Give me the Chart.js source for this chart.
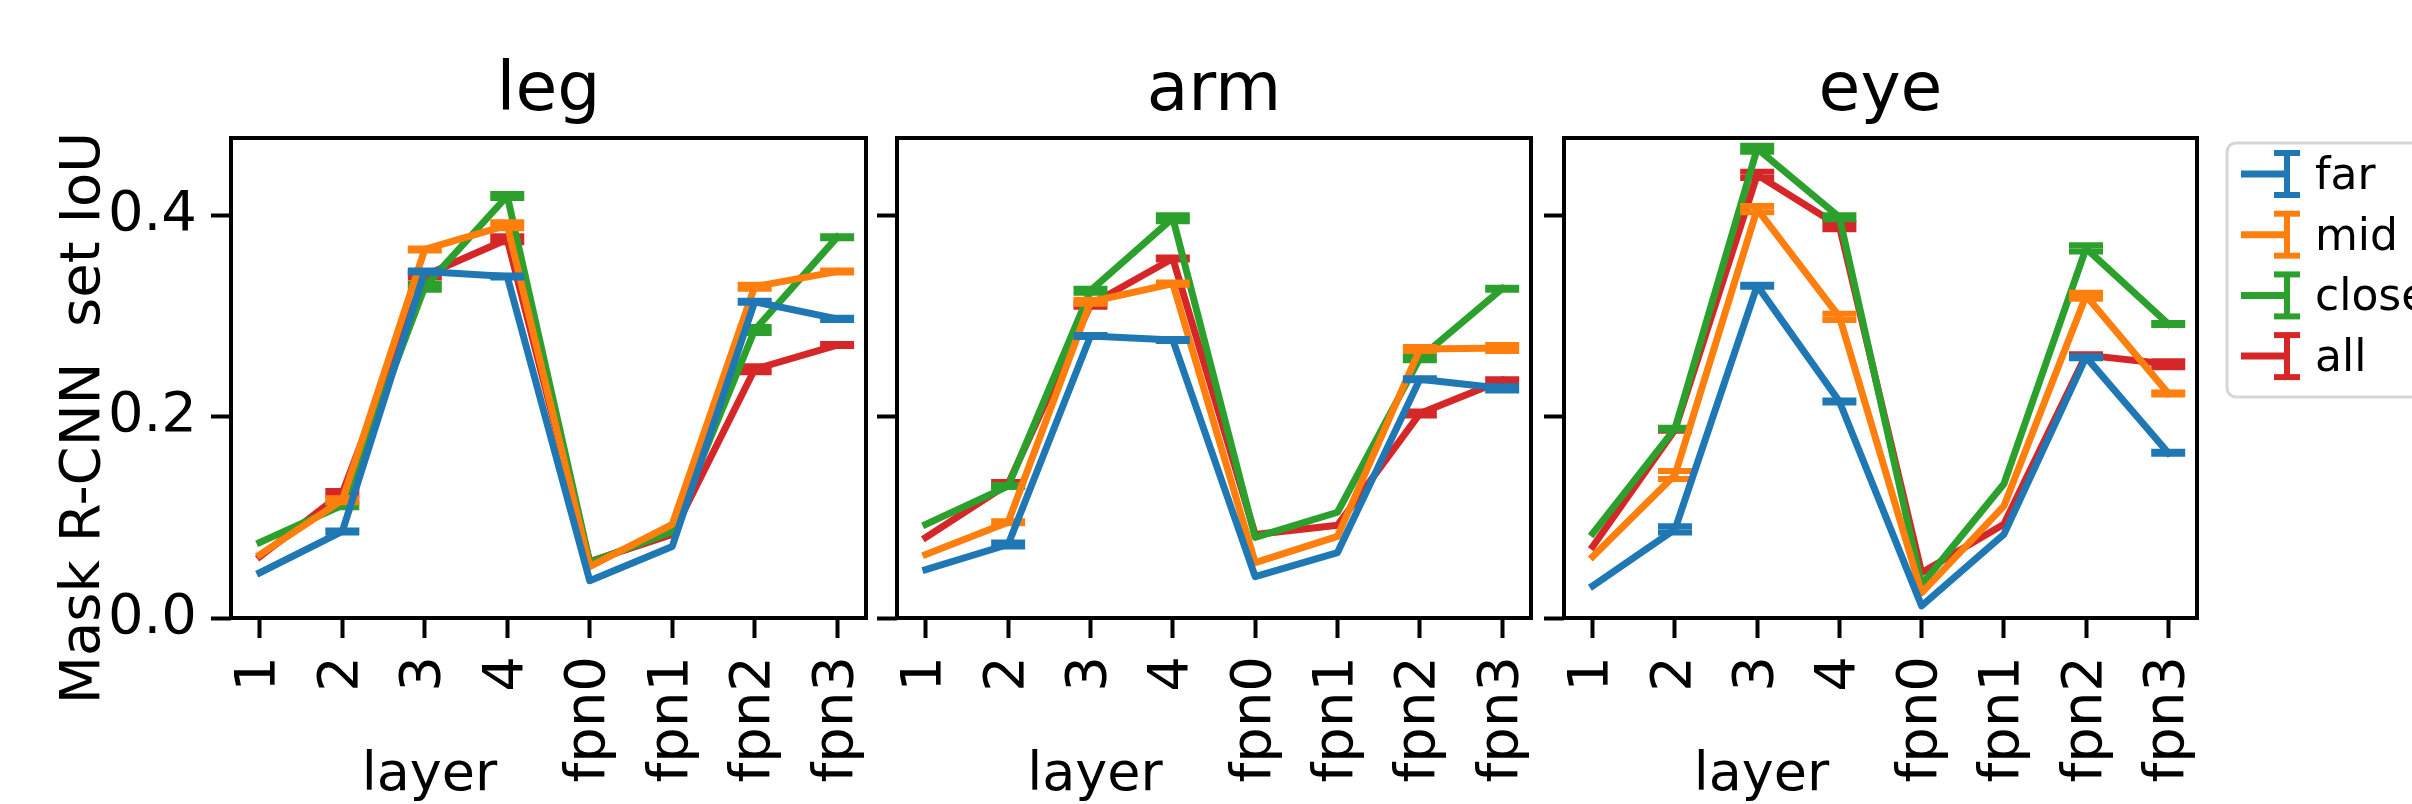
<!DOCTYPE html>
<html>
<head>
<meta charset="utf-8">
<script src="https://cdn.jsdelivr.net/npm/chart.js@4.4.1/dist/chart.umd.min.js"></script>
<style>
  html, body { margin: 0; padding: 0; background: #fff; }
  #page { position: relative; width: 2412px; height: 804px; overflow: hidden; background: #fff; }
  canvas { position: absolute; top: 0; }
  #legend { position: absolute; left: 2200px; top: 120px; }
</style>
</head>
<body>
<div id="page">
  <canvas id="c0" width="880" height="804" style="left:0px"></canvas>
  <canvas id="c1" width="678" height="804" style="left:870px"></canvas>
  <canvas id="c2" width="670" height="804" style="left:1540px"></canvas>
  <svg id="legend" width="212" height="300"></svg>
</div>
<script>
// categories, series and tick labels
const layers = ['1', '2', '3', '4', 'fpn0', 'fpn1', 'fpn2', 'fpn3'];
const parts = ['leg', 'arm', 'eye'];
const seriesNames = ['far', 'mid', 'close', 'all'];
const seriesColors = ['#1f77b4', '#ff7f0e', '#2ca02c', '#d62728'];
const yTicks = [0, 0.2, 0.4];

// leg
const legFar   = [0.045, 0.086, 0.344, 0.339, 0.037, 0.071, 0.314, 0.297];
const legMid   = [0.063, 0.117, 0.366, 0.390, 0.051, 0.093, 0.329, 0.344];
const legClose = [0.075, 0.112, 0.329, 0.419, 0.055, 0.086, 0.286, 0.378];
const legAll   = [0.061, 0.124, 0.340, 0.376, 0.056, 0.083, 0.247, 0.271];
const legFarErr   = [null, 0.001, 0.001, 0.001, null, null, 0.001, 0.001];
const legMidErr   = [null, 0.002, 0.001, 0.003, null, null, 0.002, 0.001];
const legCloseErr = [null, 0.002, 0.003, 0.002, null, null, 0.003, 0.001];
const legAllErr   = [null, 0.002, 0.002, 0.003, null, null, 0.003, 0.001];

// arm
const armFar   = [0.048, 0.073, 0.280, 0.276, 0.041, 0.065, 0.237, 0.228];
const armMid   = [0.063, 0.095, 0.314, 0.332, 0.055, 0.081, 0.267, 0.268];
const armClose = [0.093, 0.131, 0.325, 0.397, 0.080, 0.105, 0.258, 0.327];
const armAll   = [0.080, 0.133, 0.311, 0.357, 0.083, 0.092, 0.203, 0.236];
const armFarErr   = [null, 0.002, 0.001, 0.001, null, null, 0.001, 0.002];
const armMidErr   = [null, 0.001, 0.002, 0.001, null, null, 0.002, 0.003];
const armCloseErr = [null, 0.001, 0.002, 0.003, null, null, 0.002, 0.001];
const armAllErr   = [null, 0.002, 0.002, 0.001, null, null, 0.002, 0.001];

// eye
const eyeFar   = [0.032, 0.088, 0.330, 0.215, 0.012, 0.083, 0.259, 0.164];
const eyeMid   = [0.061, 0.142, 0.406, 0.299, 0.025, 0.111, 0.320, 0.223];
const eyeClose = [0.084, 0.188, 0.466, 0.398, 0.033, 0.133, 0.367, 0.292];
const eyeAll   = [0.071, 0.187, 0.440, 0.389, 0.045, 0.093, 0.261, 0.252];
const eyeFarErr   = [null, 0.003, 0.001, 0.001, null, null, 0.001, 0.001];
const eyeMidErr   = [null, 0.004, 0.003, 0.003, null, null, 0.003, 0.001];
const eyeCloseErr = [null, 0.001, 0.003, 0.002, null, null, 0.003, 0.001];
const eyeAllErr   = [null, 0.001, 0.003, 0.003, null, null, 0.001, 0.003];

const FONT = 'DejaVu Sans';
Chart.defaults.font.family = FONT;
Chart.defaults.color = '#000';

// error bars, frame and panel texts
const panelDecor = {
  id: 'panelDecor',
  afterDatasetDraw(chart, args) {
    const ds = chart.data.datasets[args.index];
    const xs = chart.scales.x, ys = chart.scales.y;
    const ctx = chart.ctx;
    ctx.save();
    ctx.strokeStyle = ds.borderColor;
    ctx.lineWidth = 6;
    ds.errors.forEach((e, i) => {
      if (e === null) return;
      const v = ds.data[i].y;
      const px = xs.getPixelForValue(i);
      const top = ys.getPixelForValue(v + e);
      const bot = ys.getPixelForValue(v - e);
      ctx.beginPath();
      ctx.moveTo(px, top); ctx.lineTo(px, bot);
      ctx.moveTo(px - 17, top); ctx.lineTo(px + 17, top);
      ctx.moveTo(px - 17, bot); ctx.lineTo(px + 17, bot);
      ctx.stroke();
    });
    ctx.restore();
  },
  afterDatasetsDraw(chart) {
    const a = chart.chartArea;
    const ctx = chart.ctx;
    ctx.save();
    ctx.strokeStyle = '#000';
    ctx.lineWidth = 4;
    ctx.strokeRect(a.left, a.top, a.right - a.left, a.bottom - a.top);
    ctx.restore();
  },
  afterDraw(chart, args, opts) {
    const a = chart.chartArea;
    const ctx = chart.ctx;
    const cx = (a.left + a.right) / 2;
    ctx.save();
    ctx.fillStyle = '#000';
    ctx.textAlign = 'center';
    ctx.textBaseline = 'alphabetic';
    ctx.font = '68px ' + FONT;
    ctx.fillText(opts.title, cx, 110);
    ctx.font = '54px ' + FONT;
    ctx.fillText('layer', cx - 119, 790);
    if (opts.yLabel) {
      ctx.font = '56px ' + FONT;
      ctx.translate(99, 418);
      ctx.rotate(-Math.PI / 2);
      ctx.fillText(opts.yLabel, 0, 0);
    }
    ctx.restore();
  }
};

function makePanel(canvasId, title, series, errs, yLabel, yWidth, padRight) {
  return new Chart(document.getElementById(canvasId), {
    type: 'line',
    data: {
      datasets: seriesNames.map((name, s) => ({
        label: name,
        data: series[s].map((v, i) => ({ x: i, y: v })),
        errors: errs[s],
        borderColor: seriesColors[s],
        backgroundColor: seriesColors[s],
        borderWidth: 7,
        borderJoinStyle: 'round',
        borderCapStyle: 'square',
        pointRadius: 0,
        tension: 0,
        fill: false
      }))
    },
    options: {
      responsive: false,
      animation: false,
      devicePixelRatio: 1,
      layout: { padding: { top: 138, right: padRight, left: 0, bottom: 0 } },
      plugins: {
        legend: { display: false },
        tooltip: { enabled: false },
        panelDecor: { title: title, yLabel: yLabel }
      },
      scales: {
        x: {
          type: 'linear',
          min: -0.35,
          max: 7.35,
          border: { display: false },
          grid: { drawOnChartArea: false, drawTicks: true, tickLength: 20, tickWidth: 4, tickColor: '#000' },
          ticks: {
            font: { size: 56 },
            padding: 18,
            minRotation: 90,
            maxRotation: 90,
            callback: v => layers[v]
          },
          afterBuildTicks: axis => { axis.ticks = layers.map((_, i) => ({ value: i })); },
          afterFit: axis => { axis.height = 186; axis.paddingLeft = 0; axis.paddingRight = 0; }
        },
        y: {
          min: 0,
          max: 0.4766,
          border: { display: false },
          grid: { drawOnChartArea: false, drawTicks: true, tickLength: 20, tickWidth: 4, tickColor: '#000' },
          ticks: {
            display: !!yLabel,
            font: { size: 56 },
            padding: 14,
            callback: v => v.toFixed(1)
          },
          afterBuildTicks: axis => { axis.ticks = yTicks.map(v => ({ value: v })); },
          afterFit: axis => { axis.width = yWidth; axis.paddingTop = 0; axis.paddingBottom = 0; }
        }
      }
    },
    plugins: [panelDecor]
  });
}

makePanel('c0', parts[0], [legFar, legMid, legClose, legAll],
  [legFarErr, legMidErr, legCloseErr, legAllErr], 'Mask R-CNN  set IoU', 231, 14);
makePanel('c1', parts[1], [armFar, armMid, armClose, armAll],
  [armFarErr, armMidErr, armCloseErr, armAllErr], null, 27, 17);
makePanel('c2', parts[2], [eyeFar, eyeMid, eyeClose, eyeAll],
  [eyeFarErr, eyeMidErr, eyeCloseErr, eyeAllErr], null, 24, 13);

// legend (shared, right side)
const svg = document.getElementById('legend');
const NS = 'http://www.w3.org/2000/svg';
function el(tag, attrs, text) {
  const n = document.createElementNS(NS, tag);
  for (const k in attrs) n.setAttribute(k, attrs[k]);
  if (text) n.textContent = text;
  svg.appendChild(n);
  return n;
}
// svg origin is page (2200, 120)
el('rect', { x: 27, y: 23, width: 240, height: 254, rx: 9, ry: 9,
  fill: '#fff', stroke: '#d6d6d6', 'stroke-width': 3 });
seriesNames.forEach((name, s) => {
  const cy = 54 + s * 60.7;
  const c = seriesColors[s];
  el('line', { x1: 41, y1: cy, x2: 87, y2: cy, stroke: c, 'stroke-width': 7 });
  el('line', { x1: 87, y1: cy - 21, x2: 87, y2: cy + 21, stroke: c, 'stroke-width': 6 });
  el('line', { x1: 74, y1: cy - 21, x2: 100, y2: cy - 21, stroke: c, 'stroke-width': 6 });
  el('line', { x1: 74, y1: cy + 21, x2: 100, y2: cy + 21, stroke: c, 'stroke-width': 6 });
  el('text', { x: 115, y: cy + 15, 'font-family': FONT, 'font-size': 44, fill: '#000' }, name);
});
</script>
</body>
</html>
